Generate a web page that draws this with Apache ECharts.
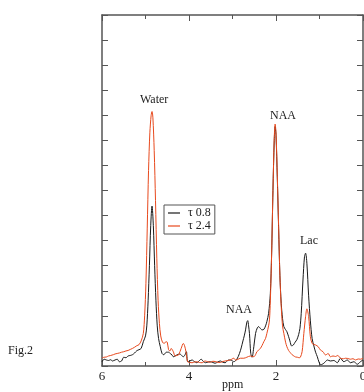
<!DOCTYPE html>
<html><head><meta charset="utf-8">
<script src="https://cdn.jsdelivr.net/npm/echarts@6/dist/echarts.min.js"></script>
<style>html,body{margin:0;padding:0;background:#fff}#c{width:364px;height:392px}</style>
</head><body><div id="c"></div>
<script>
var seriesNames = ['τ 0.8', 'τ 2.4'];
var xTickLabels = ['0', '2', '4', '6'];
var ppm08 = [6.00,5.95,5.90,5.85,5.80,5.76,5.70,5.65,5.60,5.55,5.50,5.45,5.40,5.35,5.30,5.25,5.20,5.15,5.10,5.05,5.00,4.97,4.94,4.91,4.88,4.85,4.82,4.79,4.76,4.73,4.70,4.66,4.62,4.58,4.52,4.47,4.42,4.39,4.36,4.32,4.28,4.21,4.17,4.13,4.09,4.06,4.03,3.98,3.93,3.88,3.82,3.77,3.72,3.67,3.62,3.56,3.51,3.45,3.40,3.34,3.28,3.22,3.17,3.09,3.05,3.00,2.97,2.90,2.84,2.80,2.76,2.73,2.70,2.67,2.65,2.63,2.61,2.58,2.55,2.51,2.47,2.43,2.40,2.36,2.32,2.28,2.24,2.21,2.17,2.13,2.10,2.07,2.04,2.02,2.00,1.97,1.94,1.91,1.88,1.85,1.82,1.78,1.75,1.71,1.68,1.64,1.60,1.56,1.52,1.48,1.45,1.42,1.38,1.345,1.32,1.29,1.25,1.21,1.17,1.13,1.09,1.05,1.01,0.97,0.90,0.86,0.82,0.75,0.67,0.59,0.52,0.44,0.36,0.29,0.21,0.13,0.06,0.00];
var val08 = [0.17,0.27,0.24,0.22,0.25,0.20,0.24,0.27,0.17,0.20,0.35,0.33,0.40,0.42,0.45,0.52,0.61,0.65,0.70,0.97,1.20,1.60,2.60,4.00,5.60,6.38,5.60,4.00,2.60,1.60,1.10,0.77,0.50,0.45,0.55,0.55,0.48,0.44,0.37,0.40,0.44,0.48,0.42,0.37,0.45,0.57,0.17,0.20,0.24,0.18,0.13,0.20,0.27,0.18,0.13,0.16,0.17,0.14,0.11,0.16,0.20,0.15,0.13,0.24,0.24,0.20,0.17,0.27,0.50,0.72,1.00,1.20,1.44,1.75,1.81,1.60,1.30,0.50,0.35,0.77,1.30,1.52,1.57,1.50,1.44,1.46,1.60,1.77,2.10,2.90,4.50,7.00,9.00,9.55,9.20,7.50,5.50,3.60,2.50,1.90,1.57,1.45,1.37,1.17,1.00,0.80,0.84,0.95,1.05,1.25,1.50,2.10,3.43,4.36,4.50,4.10,2.80,1.80,1.10,0.80,0.55,0.37,0.15,0.05,0.11,0.18,0.24,0.20,0.22,0.13,0.31,0.17,0.24,0.13,0.17,0.07,0.17,0.24];
var ppm24 = [6.00,5.95,5.90,5.85,5.80,5.74,5.70,5.65,5.60,5.55,5.50,5.45,5.40,5.35,5.30,5.25,5.20,5.15,5.10,5.05,5.02,4.99,4.96,4.93,4.90,4.87,4.85,4.83,4.80,4.77,4.74,4.71,4.68,4.65,4.61,4.57,4.53,4.50,4.47,4.44,4.41,4.36,4.32,4.28,4.24,4.18,4.13,4.10,4.07,4.03,3.98,3.93,3.87,3.82,3.76,3.70,3.63,3.57,3.51,3.45,3.40,3.34,3.28,3.22,3.17,3.11,3.05,2.97,2.93,2.88,2.82,2.74,2.67,2.59,2.51,2.47,2.44,2.40,2.36,2.32,2.28,2.24,2.21,2.17,2.15,2.13,2.10,2.07,2.04,2.02,2.00,1.97,1.94,1.91,1.88,1.85,1.82,1.78,1.75,1.71,1.67,1.63,1.59,1.55,1.51,1.47,1.44,1.40,1.36,1.32,1.29,1.25,1.21,1.17,1.13,1.09,1.03,0.98,0.92,0.86,0.80,0.75,0.69,0.63,0.58,0.52,0.45,0.40,0.35,0.29,0.23,0.17,0.11,0.06,0.00];
var val24 = [0.32,0.35,0.36,0.40,0.42,0.45,0.48,0.50,0.52,0.55,0.57,0.60,0.62,0.66,0.70,0.75,0.81,0.85,1.00,1.30,2.00,3.30,5.50,7.80,9.30,10.00,10.15,9.90,8.60,6.60,4.30,2.60,1.70,1.20,0.95,0.90,0.97,0.95,0.65,0.60,0.70,0.57,0.40,0.42,0.44,0.70,0.90,0.80,0.57,0.17,0.14,0.13,0.16,0.17,0.14,0.13,0.20,0.17,0.15,0.19,0.18,0.15,0.14,0.18,0.20,0.22,0.24,0.31,0.24,0.26,0.31,0.31,0.35,0.40,0.37,0.45,0.57,0.63,0.70,0.82,0.97,1.10,1.30,1.60,1.84,2.60,4.50,7.00,9.10,9.65,9.30,7.60,5.60,3.60,2.37,1.60,1.30,0.95,0.77,0.62,0.53,0.45,0.40,0.36,0.35,0.33,0.35,0.57,1.30,1.97,2.28,1.97,1.17,0.90,0.86,0.84,0.77,0.64,0.57,0.44,0.50,0.37,0.40,0.38,0.42,0.31,0.29,0.31,0.30,0.27,0.29,0.24,0.28,0.27,0.31];

function zip(xs, ys){ return xs.map(function(x,i){ return [x, ys[i]]; }); }

var serif = 'Liberation Serif, Times New Roman, serif';
var frame = '#555';
var chart = echarts.init(document.getElementById('c'), null, {renderer:'canvas'});
var xCommon = {
  type:'value', min:0, max:6, interval:2, inverse:true,
  axisLine:{show:true, onZero:false, lineStyle:{color:frame, width:1.5}},
  axisTick:{show:true, inside:true, length:6, lineStyle:{color:frame, width:1}},
  minorTick:{show:true, splitNumber:2, length:4, lineStyle:{color:frame, width:1}},
  splitLine:{show:false}
};
var yCommon = {
  type:'value', min:0, max:14, interval:1,
  axisLine:{show:true, onZero:false, lineStyle:{color:frame, width:1.5}},
  axisTick:{show:true, inside:true, length:6, lineStyle:{color:frame, width:1}},
  axisLabel:{show:false}, splitLine:{show:false}
};
chart.setOption({
  animation:false,
  backgroundColor:'#fff',
  grid:{left:102, right:1, top:15, bottom:26, containLabel:false, outerBoundsMode:'none'},
  xAxis:[
    Object.assign({}, xCommon, {position:'bottom',
      axisLabel:{show:true, margin:4, fontFamily:serif, fontSize:13, color:'#222', showMaxLabel:true, showMinLabel:true,
        formatter:function(v){ var s=String(v); return xTickLabels.indexOf(s)>=0 ? s : ''; }}}),
    Object.assign({}, xCommon, {position:'top', axisLabel:{show:false}})
  ],
  yAxis:[
    Object.assign({}, yCommon, {position:'left'}),
    Object.assign({}, yCommon, {position:'right'})
  ],
  legend:{
    left:164, top:205, orient:'vertical', itemGap:1, padding:[2,4,2,4],
    borderColor:'#555', borderWidth:1, backgroundColor:'#fff',
    itemWidth:12, itemHeight:1.2, icon:'rect',
    textStyle:{fontFamily:serif, fontSize:12, color:'#222', padding:[0,0,0,3]},
    data:seriesNames
  },
  graphic:[
    {type:'text', left:140, top:94, style:{text:'Water', font:'12px '+serif, fill:'#222'}},
    {type:'text', left:270, top:110, style:{text:'NAA', font:'12px '+serif, fill:'#222'}},
    {type:'text', left:226, top:304, style:{text:'NAA', font:'12px '+serif, fill:'#222'}},
    {type:'text', left:300, top:235, style:{text:'Lac', font:'12px '+serif, fill:'#222'}},
    {type:'text', left:8, top:345, style:{text:'Fig.2', font:'12px '+serif, fill:'#222'}},
    {type:'text', left:222, top:379, style:{text:'ppm', font:'12px '+serif, fill:'#222'}}
  ],
  series:[
    {name:seriesNames[0], type:'line', data:zip(ppm08,val08), symbol:'none', smooth:0.3,
      lineStyle:{color:'#1a1a1a', width:1}, itemStyle:{color:'#1a1a1a'}},
    {name:seriesNames[1], type:'line', data:zip(ppm24,val24), symbol:'none', smooth:0.3,
      lineStyle:{color:'#e8491d', width:1}, itemStyle:{color:'#e8491d'}}
  ]
});
</script></body></html>
